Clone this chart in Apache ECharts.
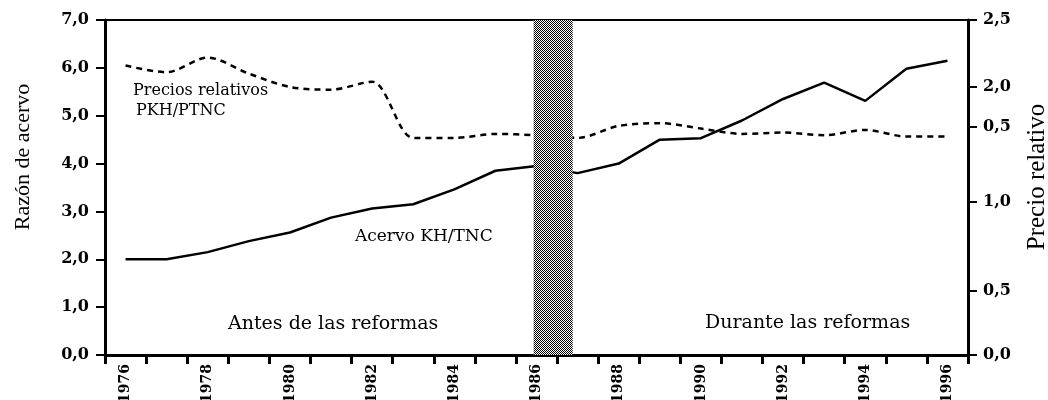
<!DOCTYPE html>
<html>
<head>
<meta charset="utf-8">
<script src="https://cdn.jsdelivr.net/npm/echarts@6/dist/echarts.min.js"></script>
<style>
  html, body { margin: 0; padding: 0; background: #fff; }
  #chart { width: 1048px; height: 400px; }
</style>
</head>
<body>
<div id="chart"></div>
<script>
// datos
const years = ['1976','1977','1978','1979','1980','1981','1982','1983','1984','1985','1986',
  '1987','1988','1989','1990','1991','1992','1993','1994','1995','1996']
// razon de acervo KH/TNC (eje izquierdo)
const acervo = [2.0, 2.0, 2.15, 2.38, 2.56, 2.87, 3.06, 3.15, 3.46, 3.85, 3.95,
  3.8, 4.0, 4.5, 4.53, 4.9, 5.35, 5.69, 5.31, 5.98, 6.15]
// precios relativos PKH/PTNC (eje derecho)
const precios = [2.16, 2.11, 2.22, 2.1, 2.0, 1.98, 2.04, 1.62, 1.62, 1.65, 1.64,
  1.62, 1.71, 1.73, 1.69, 1.65, 1.66, 1.64, 1.68, 1.63, 1.63]
// etiquetas del eje derecho tal como aparecen
const rightTickValues = [0, 0.48, 1.14, 1.7, 2.0, 2.5]
const rightTickLabels = ['0,0', '0,5', '1,0', '0,5', '2,0', '2,5']
// franja sombreada (1986)
const banda = [1985.93, 1986.88]

const serif = '"DejaVu Serif", serif'
const times = '"Liberation Serif", serif'

function checker() {
  let c = document.createElement('canvas')
  c.width = 2
  c.height = 2
  let ctx = c.getContext('2d')
  ctx.fillStyle = '#fff'
  ctx.fillRect(0, 0, 2, 2)
  ctx.fillStyle = '#000'
  ctx.fillRect(0, 0, 1, 1)
  ctx.fillRect(1, 1, 1, 1)
  return c
}

function label(text, x, y, size, font) {
  return {
    type: 'text', x: x, y: y, z: 20,
    style: { text: text, fill: '#000', font: `${size}px ${font || serif}`, verticalAlign: 'middle' }
  }
}

function vtitle(text, x, y, size) {
  return {
    type: 'text', x: x, y: y, rotation: Math.PI / 2, z: 20,
    style: { text: text, fill: '#000', font: `${size}px ${times}`, align: 'center', verticalAlign: 'middle' }
  }
}

var chart = echarts.init(document.getElementById('chart'))

let option = {
  animation: false,
  grid: {
    left: 105, right: 80, top: 20, bottom: 45,
    show: true, borderColor: '#000', borderWidth: 2,
    outerBoundsMode: 'none'
  },
  xAxis: [
    {
      type: 'category',
      data: years,
      boundaryGap: true,
      axisLine: { lineStyle: { color: '#000', width: 3 } },
      axisTick: { show: true, interval: 0, length: 9, lineStyle: { color: '#000', width: 3 } },
      axisLabel: { interval: 1, rotate: 90, margin: 9, color: '#000', fontFamily: serif, fontSize: 14, fontWeight: 'bold' },
      splitLine: { show: false }
    },
    {
      type: 'value', min: 1975.5, max: 1996.5, show: false, gridIndex: 0
    }
  ],
  yAxis: [
    {
      type: 'value', min: 0, max: 7, interval: 1,
      axisLine: { show: true, lineStyle: { color: '#000', width: 3 } },
      axisTick: { show: true, length: 9, lineStyle: { color: '#000', width: 2 } },
      axisLabel: {
        margin: 16, color: '#000', fontFamily: serif, fontSize: 16, fontWeight: 'bold',
        formatter: v => v.toFixed(1).replace('.', ',')
      },
      splitLine: { show: false }
    },
    {
      type: 'value', min: 0, max: 2.5, position: 'right',
      axisLine: { show: true, lineStyle: { color: '#000', width: 3 } },
      axisTick: { show: true, length: 9, customValues: rightTickValues, lineStyle: { color: '#000', width: 2 } },
      axisLabel: {
        margin: 15, color: '#000', fontFamily: serif, fontSize: 16, fontWeight: 'bold',
        customValues: rightTickValues,
        formatter: v => rightTickLabels[rightTickValues.indexOf(v)]
      },
      splitLine: { show: false }
    }
  ],
  series: [
    {
      name: 'Acervo KH/TNC',
      type: 'line',
      data: acervo,
      yAxisIndex: 0,
      symbol: 'none',
      lineStyle: { color: '#000', width: 2.5 }
    },
    {
      name: 'Precios relativos PKH/PTNC',
      type: 'line',
      data: precios,
      yAxisIndex: 1,
      symbol: 'none',
      smooth: 0.3,
      lineStyle: { color: '#000', width: 2.5, type: [6, 5] }
    },
    {
      name: 'banda',
      type: 'line',
      xAxisIndex: 1,
      yAxisIndex: 0,
      data: [],
      markArea: {
        silent: true,
        z: 10,
        itemStyle: { color: { image: checker(), repeat: 'repeat' } },
        data: [[{ xAxis: banda[0] }, { xAxis: banda[1] }]]
      }
    }
  ],
  graphic: [
    vtitle('Razón de acervo', 23, 157, 22),
    vtitle('Precio relativo', 1037, 177, 25),
    label('Precios relativos', 133, 91, 16),
    label('PKH/PTNC', 136, 111, 16),
    label('Acervo KH/TNC', 355, 237, 17),
    label('Antes de las reformas', 228, 324, 19),
    label('Durante las reformas', 705, 323, 19)
  ]
}
chart.setOption(option)
</script>
</body>
</html>
